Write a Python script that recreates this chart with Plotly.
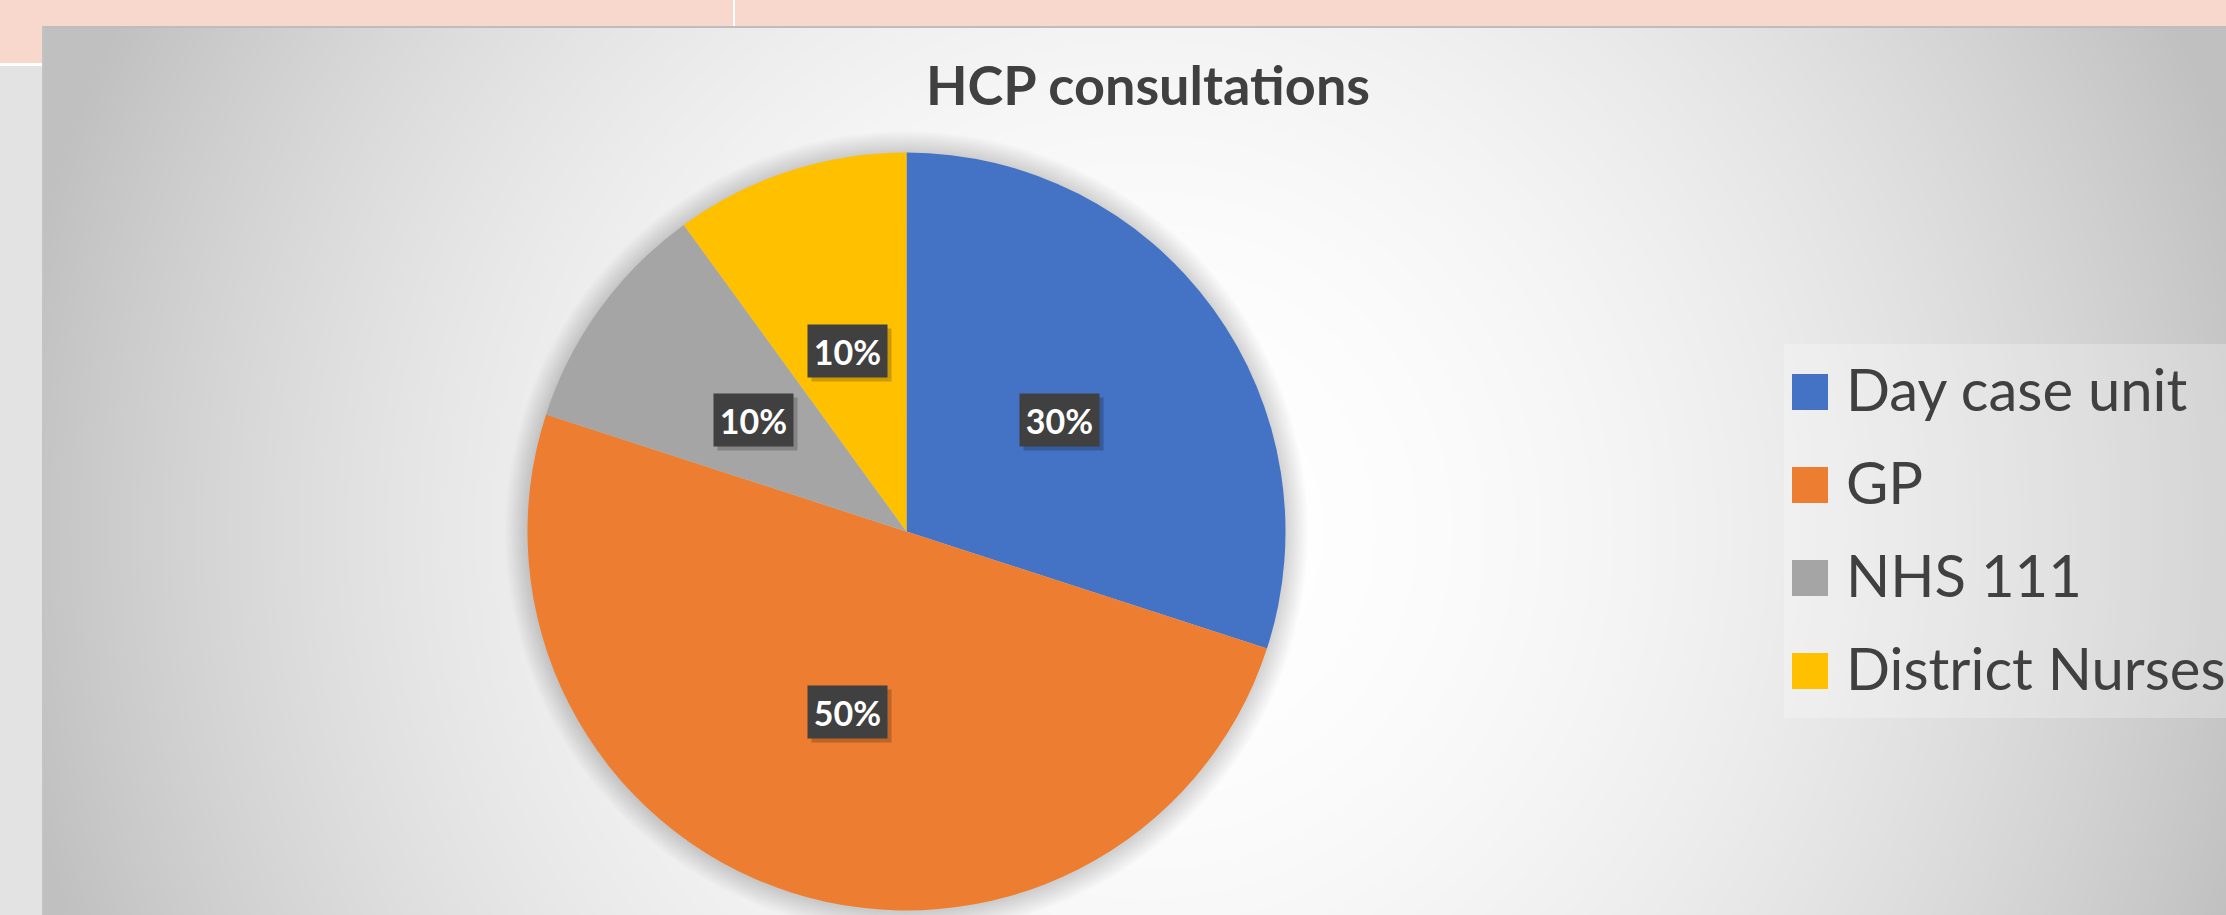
import base64
import struct
import zlib

import numpy as np
import plotly.graph_objects as go

# ---------------- data ----------------
categories = ["Day case unit", "GP", "NHS 111", "District Nurses"]
values = [30, 50, 10, 10]
colors = ["#4472C4", "#ED7D31", "#A5A5A5", "#FFC000"]
title_text = "HCP consultations"

# ---------------- layout constants (pixels) ----------------
W, H = 2226, 915
PIE_CX, PIE_CY, PIE_R = 906.5, 531.5, 379.0
LABEL_FRAC = 0.5
TEXT_COLOR = "#404040"
FONT = "Lato"


def px(x):
    return x / W


def py(y):
    return 1 - y / H


# ---------------- background gradient (decoration) ----------------
def gradient_png():
    yy, xx = np.mgrid[0:H, 0:W].astype(float)
    gcx, gcy, gsc = 1146.0, 530.0, 1100.0
    d2 = ((xx - gcx) ** 2 + (yy - gcy) ** 2) / gsc ** 2
    delta = np.minimum(58.0 * d2, 63.0)
    img = np.clip(np.round(255.0 - delta), 0, 255).astype(np.uint8)
    diff = (np.diff(img.astype(np.int16), axis=1, prepend=0) % 256).astype(np.uint8)
    raw = np.concatenate([np.ones((H, 1), np.uint8), diff], axis=1).tobytes()

    def chunk(t, d):
        return (struct.pack(">I", len(d)) + t + d
                + struct.pack(">I", zlib.crc32(t + d) & 0xFFFFFFFF))

    ihdr = struct.pack(">IIBBBBB", W, H, 8, 0, 0, 0, 0)
    png = (b"\x89PNG\r\n\x1a\n" + chunk(b"IHDR", ihdr)
           + chunk(b"IDAT", zlib.compress(raw, 9)) + chunk(b"IEND", b""))
    return "data:image/png;base64," + base64.b64encode(png).decode()


fig = go.Figure()

fig.add_trace(go.Pie(
    labels=categories,
    values=values,
    marker=dict(colors=colors, line=dict(width=0)),
    sort=False,
    direction="clockwise",
    rotation=0,
    textinfo="none",
    showlegend=False,
    domain=dict(x=[px(PIE_CX - PIE_R), px(PIE_CX + PIE_R)],
                y=[py(PIE_CY + PIE_R), py(PIE_CY - PIE_R)]),
))

shapes = []
# pie soft shadow
for k in range(1, 15):
    rr = PIE_R + k * 1.6
    shapes.append(dict(type="circle", xref="paper", yref="paper", layer="below",
                       x0=px(PIE_CX - rr), x1=px(PIE_CX + rr),
                       y0=py(PIE_CY + rr + 1), y1=py(PIE_CY - rr + 1),
                       fillcolor="rgba(0,0,0,0.011)", line=dict(width=0)))

# page decorations around the chart area
def rect(x0, y0, x1, y1, color):
    shapes.append(dict(type="rect", xref="paper", yref="paper", layer="below",
                       x0=px(x0), x1=px(x1), y0=py(y1), y1=py(y0),
                       fillcolor=color, line=dict(width=0)))

rect(0, 0, W, 27, "#F8D7CD")
rect(0, 0, 42, 63, "#F8D7CD")
rect(0, 63, 42, 66, "#FFFFFF")
rect(0, 66, 42, H, "#E3E3E3")
rect(733, 0, 735, 27, "#FFFFFF")
rect(42, 26, W, 28, "#BDBDBD")
rect(42, 26, 43.5, H, "#C4C4C4")

# legend box
rect(1784, 344, W, 718, "rgba(255,255,255,0.25)")

annotations = []

# title
annotations.append(dict(text=title_text, xref="paper", yref="paper",
                        x=px(1148), y=py(105 - 0.387 * 54), xanchor="center", yanchor="middle",
                        showarrow=False,
                        font=dict(family=FONT, size=54, color=TEXT_COLOR, weight="bold")))

# legend (manual, to match large markers)
LEG_SQ_X0, LEG_SQ = 1792, 36
LEG_FIRST, LEG_PITCH = 392, 93
LEG_FS = 58
for i, (cat, col) in enumerate(zip(categories, colors)):
    cy = LEG_FIRST + i * LEG_PITCH
    shapes.append(dict(type="rect", xref="paper", yref="paper", layer="above",
                       x0=px(LEG_SQ_X0), x1=px(LEG_SQ_X0 + LEG_SQ),
                       y0=py(cy + LEG_SQ / 2), y1=py(cy - LEG_SQ / 2),
                       fillcolor=col, line=dict(width=0)))
    baseline = cy + LEG_SQ / 2 + 1
    annotations.append(dict(text=cat, xref="paper", yref="paper",
                            x=px(1844), y=py(baseline - 0.387 * LEG_FS),
                            xanchor="left", yanchor="middle", showarrow=False,
                            font=dict(family=FONT, size=LEG_FS, color=TEXT_COLOR)))

# data labels (positions derived from the values)
total = float(sum(values))
cum = 0.0
for v in values:
    mid = (cum + v / 2.0) / total
    cum += v
    th = 2 * np.pi * mid
    lx = PIE_CX + LABEL_FRAC * PIE_R * np.sin(th)
    ly = PIE_CY - LABEL_FRAC * PIE_R * np.cos(th)
    txt = f"{v / total * 100:.0f}%"
    annotations.append(dict(text=txt, xref="paper", yref="paper",
                            x=px(lx), y=py(ly), xshift=4, yshift=-4,
                            xanchor="center", yanchor="middle", showarrow=False,
                            width=79, height=52, borderpad=0,
                            bgcolor="rgba(0,0,0,0.2)",
                            font=dict(family=FONT, size=34, color="rgba(0,0,0,0)", weight="bold")))
    annotations.append(dict(text=txt, xref="paper", yref="paper",
                            x=px(lx), y=py(ly),
                            xanchor="center", yanchor="middle", showarrow=False,
                            width=79, height=52, borderpad=0,
                            bgcolor="#404040",
                            font=dict(family=FONT, size=34, color="#FFFFFF", weight="bold")))

fig.update_layout(
    width=W, height=H,
    margin=dict(l=0, r=0, t=0, b=0),
    paper_bgcolor="#FFFFFF",
    plot_bgcolor="#FFFFFF",
    showlegend=False,
    images=[dict(source=gradient_png(), xref="paper", yref="paper",
                 x=0, y=1, sizex=1, sizey=1, xanchor="left", yanchor="top",
                 sizing="stretch", layer="below")],
    shapes=shapes,
    annotations=annotations,
)

fig.write_html("out.html")
